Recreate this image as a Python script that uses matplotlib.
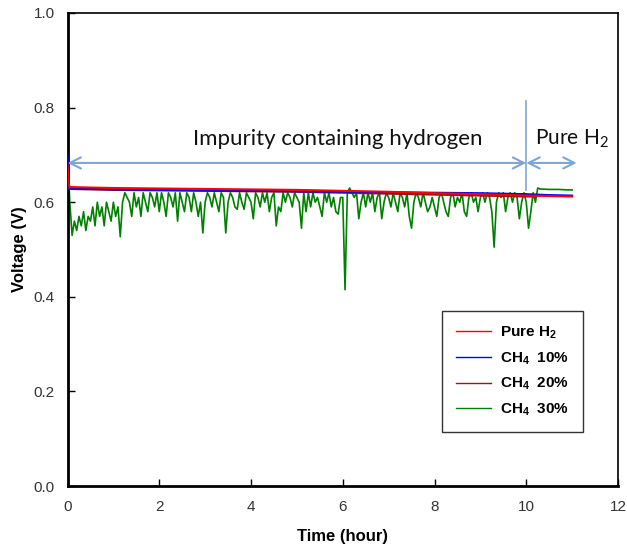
import numpy as np
import matplotlib
matplotlib.use("Agg")
import matplotlib.pyplot as plt

plt.rcParams['font.family'] = ['Liberation Sans', 'DejaVu Sans']
plt.rcParams['mathtext.default'] = 'regular'

# --- data ---
t_red = [0.0, 0.02, 0.05, 0.5, 1, 2, 3, 4, 5, 6, 7, 8, 9, 10, 10.5, 11]
v_red = [0.68, 0.64, 0.632, 0.631, 0.630, 0.629, 0.628, 0.627, 0.626, 0.624,
         0.622, 0.619, 0.617, 0.614, 0.613, 0.612]

t_blue = [0.0, 0.02, 0.05, 0.5, 1, 2, 3, 4, 5, 6, 7, 8, 9, 10, 10.5, 11]
v_blue = [0.70, 0.64, 0.629, 0.628, 0.627, 0.626, 0.625, 0.624, 0.623, 0.622,
          0.621, 0.620, 0.619, 0.617, 0.615, 0.614]

t_brown = [0.0, 0.02, 0.05, 0.5, 1, 2, 3, 4, 5, 6, 7, 8, 9, 10, 10.2]
v_brown = [0.66, 0.63, 0.628, 0.627, 0.626, 0.625, 0.624, 0.623, 0.622, 0.620,
           0.618, 0.616, 0.614, 0.612, 0.612]

t_green = [round(0.05 * i, 2) for i in range(206)] + [10.3, 10.5, 10.7, 10.9, 11.0]
v_green = [
    # 0.00 - 0.95
    0.70, 0.60, 0.53, 0.56, 0.54, 0.57, 0.55, 0.58, 0.54, 0.57,
    0.56, 0.59, 0.55, 0.60, 0.57, 0.59, 0.55, 0.60, 0.58, 0.56,
    # 1.00 - 1.95
    0.60, 0.57, 0.59, 0.527, 0.60, 0.62, 0.61, 0.60, 0.57, 0.62,
    0.59, 0.61, 0.57, 0.62, 0.60, 0.58, 0.62, 0.61, 0.59, 0.62,
    # 2.00 - 2.95
    0.58, 0.62, 0.60, 0.57, 0.62, 0.61, 0.59, 0.62, 0.56, 0.62,
    0.60, 0.58, 0.62, 0.61, 0.58, 0.62, 0.60, 0.57, 0.60, 0.535,
    # 3.00 - 3.95
    0.60, 0.62, 0.61, 0.59, 0.62, 0.60, 0.58, 0.62, 0.61, 0.535,
    0.60, 0.62, 0.61, 0.59, 0.585, 0.62, 0.60, 0.585, 0.62, 0.61,
    # 4.00 - 4.95
    0.60, 0.565, 0.62, 0.61, 0.59, 0.62, 0.60, 0.62, 0.58, 0.61,
    0.62, 0.55, 0.59, 0.58, 0.62, 0.60, 0.62, 0.61, 0.59, 0.62,
    # 5.00 - 5.95
    0.61, 0.60, 0.545, 0.62, 0.58, 0.62, 0.59, 0.62, 0.60, 0.61,
    0.59, 0.57, 0.62, 0.60, 0.62, 0.59, 0.61, 0.58, 0.575, 0.61,
    # 6.00 - 6.95
    0.61, 0.415, 0.62, 0.63, 0.62, 0.61, 0.62, 0.565, 0.60, 0.62,
    0.59, 0.62, 0.60, 0.62, 0.58, 0.61, 0.62, 0.565, 0.60, 0.62,
    # 7.00 - 7.95
    0.61, 0.59, 0.62, 0.60, 0.58, 0.62, 0.61, 0.59, 0.62, 0.57,
    0.545, 0.60, 0.62, 0.61, 0.59, 0.62, 0.60, 0.58, 0.59, 0.61,
    # 8.00 - 8.95
    0.59, 0.57, 0.61, 0.62, 0.60, 0.58, 0.57, 0.61, 0.62, 0.59,
    0.61, 0.60, 0.62, 0.58, 0.57, 0.61, 0.62, 0.60, 0.61, 0.58,
    # 9.00 - 9.95
    0.61, 0.62, 0.60, 0.62, 0.61, 0.58, 0.505, 0.60, 0.62, 0.61,
    0.62, 0.58, 0.61, 0.62, 0.60, 0.62, 0.61, 0.565, 0.60, 0.62,
    # 10.00 - 10.25
    0.60, 0.545, 0.58, 0.62, 0.60, 0.63,
    # pure H2 again
    0.628, 0.627, 0.627, 0.626, 0.626,
]

x_ticks = [0, 2, 4, 6, 8, 10, 12]
y_ticks = [0.0, 0.2, 0.4, 0.6, 0.8, 1.0]

fig = plt.figure(figsize=(6.27, 5.52), dpi=100)
ax = fig.add_axes([67.5 / 627, 1 - 486 / 552, 550.5 / 627, 473 / 552])

ax.plot(t_green, v_green, color='#008000', lw=1.2, label='CH$_4$  30%', zorder=2)
ax.plot(t_brown, v_brown, color='#8b1a1a', lw=1.5, label='CH$_4$  20%', zorder=3)
ax.plot(t_blue, v_blue, color='#0000ff', lw=1.5, label='CH$_4$  10%', zorder=3)
ax.plot(t_red, v_red, color='#ff0000', lw=1.5, label='Pure H$_2$', zorder=4)

ax.set_xlim(0, 12)
ax.set_ylim(0, 1.0)
ax.set_xticks(x_ticks)
ax.set_yticks(y_ticks)
ax.set_xticklabels([str(t) for t in x_ticks])
ax.set_yticklabels([f"{t:.1f}" for t in y_ticks])
ax.tick_params(direction='in', length=5, width=1, labelsize=11,
               labelcolor='#333333')
ax.tick_params(axis='x', pad=10)
ax.tick_params(axis='y', pad=9)
for s in ['left', 'bottom']:
    ax.spines[s].set_linewidth(2)
for s in ['top', 'right']:
    ax.spines[s].set_linewidth(1.2)

ax.set_xlabel('Time (hour)', fontsize=12, fontweight='bold', labelpad=11)
ax.set_ylabel('Voltage (V)', fontsize=12, fontweight='bold', labelpad=5)

# annotations
arrow_c = '#7fa5d3'
ax.annotate('', xy=(0, 0.683), xytext=(10, 0.683),
            arrowprops=dict(arrowstyle='<->', color=arrow_c, lw=1.5,
                            mutation_scale=20, shrinkA=0, shrinkB=0))
ax.annotate('', xy=(10, 0.683), xytext=(11.1, 0.683),
            arrowprops=dict(arrowstyle='<->', color=arrow_c, lw=1.5,
                            mutation_scale=20, shrinkA=0, shrinkB=0))
ax.plot([10, 10], [0.625, 0.815], color=arrow_c, lw=1.2)
ax.text(5.9, 0.733, 'Impurity containing hydrogen', fontsize=16,
        family='Lato', color='#111111', ha='center', va='center')
ax.text(10.2, 0.733, 'Pure H$_2$', fontsize=15, family='Lato',
        color='#111111', ha='left', va='center')

handles, labels = ax.get_legend_handles_labels()
order = [3, 2, 1, 0]
leg = ax.legend([handles[i] for i in order], [labels[i] for i in order],
                loc='upper left', bbox_to_anchor=(0.68, 0.37),
                frameon=True, fancybox=False, edgecolor='black',
                prop={'weight': 'bold', 'size': 11}, handlelength=2.3,
                handletextpad=0.6, borderpad=0.9, labelspacing=0.6,
                borderaxespad=0)
leg.get_frame().set_linewidth(1.0)
for line in leg.get_lines():
    line.set_linewidth(1.0)

fig.savefig('out.png', dpi=100)
